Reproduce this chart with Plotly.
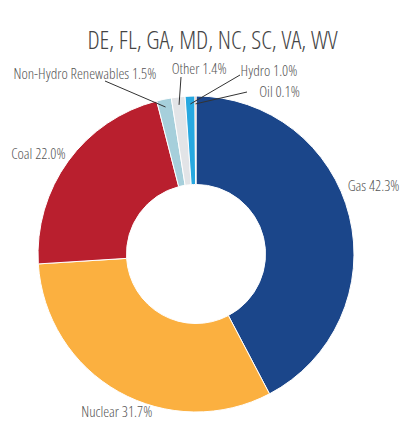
import math
import plotly.graph_objects as go

labels = ["Gas", "Nuclear", "Coal", "Non-Hydro Renewables", "Other", "Hydro", "Oil"]
values = [42.3, 31.7, 22.0, 1.5, 1.4, 1.0, 0.1]
colors = ["#1b468a", "#fbb040", "#b91f2e", "#a6cfdb", "#e2e4e7", "#27a8e0", "#f05a28"]
title_text = "DE, FL, GA, MD, NC, SC, VA, WV"

W, H = 402, 423
L, R, T, B = 38, 48, 96, 11
PW, PH = W - L - R, H - T - B
CX, CY = L + PW / 2, T + PH / 2
RAD = min(PW, PH) / 2
FONT = "Open Sans"
TXT = "#555555"


def px(x):
    return (x - L) / PW


def py(y):
    return 1 - (y - T) / PH


fig = go.Figure(go.Pie(
    labels=labels, values=values, sort=False, direction="clockwise", rotation=0,
    hole=0.44, textinfo="none", hoverinfo="label+percent",
    marker=dict(colors=colors, line=dict(color="white", width=1)),
    domain=dict(x=[0, 1], y=[0, 1]), showlegend=False,
))

total = sum(values)
cum = 0
mids = []
for v in values:
    mids.append(2 * math.pi * (cum + v / 2) / total)
    cum += v

# label placement (pixels, text centre): (x, y, leader tail or None)
place = {
    "Gas": (374, 185, None),
    "Nuclear": (116.5, 411, None),
    "Coal": (38, 153, None),
    "Non-Hydro Renewables": (85, 73, (105, 81)),
    "Other": (198.5, 68, (181, 77)),
    "Hydro": (269, 70, (240, 75)),
    "Oil": (279, 91, (247, 92)),
}

annotations = []
shapes = []
for lab, v, th in zip(labels, values, mids):
    x, y, tail = place[lab]
    annotations.append(dict(
        x=px(x), y=py(y), xref="paper", yref="paper", xanchor="center", yanchor="middle",
        text=f"{lab} {v:.1f}%", showarrow=False,
        font=dict(family=FONT, size=15, color=TXT, weight=300),
    ))
    if tail:
        tx = CX + 0.95 * RAD * math.sin(th)
        ty = CY - 0.95 * RAD * math.cos(th)
        shapes.append(dict(type="line", xref="paper", yref="paper",
                           x0=px(tail[0]), y0=py(tail[1]), x1=px(tx), y1=py(ty),
                           line=dict(color="#333333", width=1)))

fig.update_layout(
    width=W, height=H,
    margin=dict(l=L, r=R, t=T, b=B),
    paper_bgcolor="white", plot_bgcolor="white",
    title=dict(text=title_text, x=212.5 / W, xanchor="center", y=1 - 40 / H, yanchor="middle",
               font=dict(family=FONT, size=25, color="#444444", weight=300)),
    annotations=annotations, shapes=shapes,
)

css = ("var s=document.createElement('style');"
       "s.textContent='body{margin:0}svg text{font-stretch:condensed !important;font-stretch:75% !important;}';"
       "document.head.appendChild(s);document.body.style.margin='0';")
fig.write_html("out.html", post_script=css, config={"displayModeBar": False})
